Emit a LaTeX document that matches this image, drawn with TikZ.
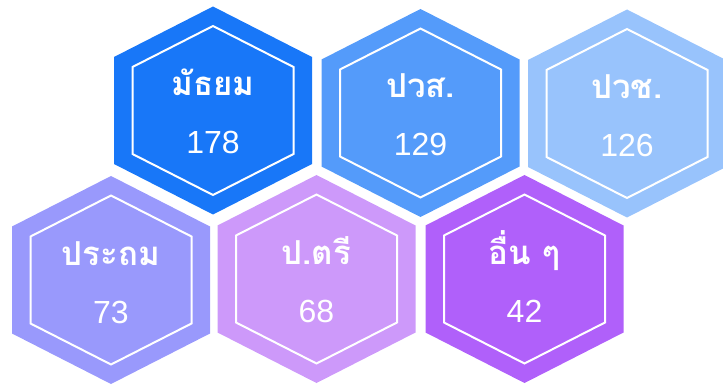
\documentclass[tikz,border=0pt]{standalone}
\usepackage{fontspec}
\newfontfamily\thaifont[Script=Thai]{Loma}
\newfontfamily\numfont{Liberation Sans}
\definecolor{cA}{HTML}{1877F8}
\definecolor{cB}{HTML}{549BFA}
\definecolor{cC}{HTML}{98C3FC}
\definecolor{cD}{HTML}{9999FC}
\definecolor{cE}{HTML}{CD99FA}
\definecolor{cF}{HTML}{B060FA}
\tikzset{
  innerline/.style={draw=white, line width=2pt, line join=miter},
  lbl/.style={text=white, inner sep=0pt, anchor=base, font=\thaifont\bfseries\fontsize{33}{36}\selectfont},
  num/.style={text=white, inner sep=0pt, anchor=base, font=\numfont\fontsize{32}{34}\selectfont},
}
\newcommand\hexcell[6]{%
  \begin{scope}[shift={(#2,#3)}]
    \fill[#4] (0,-104) -- (99,-53.5) -- (99,53.5) -- (0,104) -- (-99,53.5) -- (-99,-53.5) -- cycle;
    \draw[innerline] (0,-84.5) -- (80.5,-43.5) -- (80.5,43.5) -- (0,84.5) -- (-80.5,43.5) -- (-80.5,-43.5) -- cycle;
    \node[lbl] (#1-l) at (0,-15) {#5};
    \node[num] (#1-n) at (0,43) {#6};
  \end{scope}}
\begin{document}
\begin{tikzpicture}[x=1pt,y=-1pt]
\useasboundingbox (0,0) rectangle (723,385);
\hexcell{a}{213}{110.5}{cA}{มัธยม}{178}
\hexcell{b}{420.5}{113}{cB}{ปวส.}{129}
\hexcell{c}{627}{113.5}{cC}{ปวช.}{126}
\hexcell{d}{111}{280}{cD}{ประถม}{73}
\hexcell{e}{316.5}{279}{cE}{ป.ตรี}{68}
\hexcell{f}{524.5}{279}{cF}{อื่น ๆ}{42}
\end{tikzpicture}
\end{document}
